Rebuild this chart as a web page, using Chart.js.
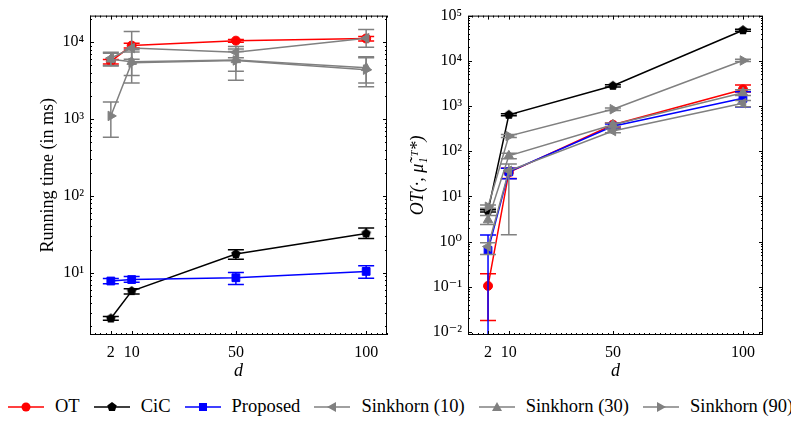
<!DOCTYPE html>
<html>
<head>
<meta charset="utf-8">
<script src="https://cdn.jsdelivr.net/npm/chart.js@4.4.1/dist/chart.umd.min.js"></script>
<style>
html,body{margin:0;padding:0;background:#fff;}
body{width:791px;height:421px;position:relative;overflow:hidden;font-family:"Liberation Serif","Times New Roman","DejaVu Serif",serif;color:#000;}
#left{position:absolute;left:0;top:0;width:395px;height:390px;}
#right{position:absolute;left:395px;top:0;width:396px;height:390px;}
#legend{position:absolute;left:8px;top:396px;display:flex;align-items:center;font-size:18.5px;white-space:nowrap;}
.item{display:flex;align-items:center;margin-right:14px;}
.item svg{margin-right:11px;}
</style>
</head>
<body>
<div id="left"><canvas id="timeChart"></canvas></div>
<div id="right"><canvas id="otChart"></canvas></div>
<div id="legend"></div>
<script>
const dims = [2, 10, 50, 100];
const xTicks = [2, 10, 50, 100];
const timeTicks = [10, 100, 1000, 10000];
const otTicks = [0.01, 0.1, 1, 10, 100, 1000, 10000, 100000];
const labels = ['OT', 'CiC', 'Proposed', 'Sinkhorn (10)', 'Sinkhorn (30)', 'Sinkhorn (90)'];

// running time (ms), with error bar ends
const timeOT    = [5650, 9060, 10500, 11200];
const timeOTLo  = [5200, 8400, 10000, 10400];
const timeOTHi  = [5950, 9700, 10900, 11900];
const timeCiC   = [2.54, 5.77, 17.5, 32.5];
const timeCiCLo = [2.4, 5.3, 15.0, 27.8];
const timeCiCHi = [2.7, 6.2, 19.9, 38.3];
const timeProp   = [7.8, 8.15, 8.6, 10.4];
const timePropLo = [7.2, 7.5, 7.0, 8.5];
const timePropHi = [8.4, 8.9, 10.1, 12.3];
const timeS10   = [6200, 8400, 7400, 11300];
const timeS10Lo = [4900, 6000, 6300, 8600];
const timeS10Hi = [7400, 13800, 8800, 14700];
const timeS30   = [6000, 5600, 5900, 4650];
const timeS30Lo = [5000, 3700, 3200, 2950];
const timeS30Hi = [7200, 8000, 8200, 6500];
const timeS90   = [1100, 5400, 5800, 4400];
const timeS90Lo = [580, 2950, 4200, 2630];
const timeS90Hi = [1670, 7500, 7600, 6300];

// OT cost
const otOT    = [0.105, 34, 386, 2330];
const otOTLo  = [0.018, 25, 345, 2050];
const otOTHi  = [0.195, 42, 420, 2900];
const otCiC   = [4.8, 640, 2800, 47500];
const otCiCLo = [4.5, 610, 2650, 45000];
const otCiCHi = [5.1, 670, 2950, 50000];
const otProp   = [0.64, 35, 357, 1480];
const otPropLo = [0.001, 24.7, 320, 950];
const otPropHi = [1.4, 42, 400, 2080];
const otS10   = [0.78, 37, 280, 1150];
const otS10Lo = [0.52, 1.42, 255, 960];
const otS10Hi = [0.95, 52, 310, 1320];
const otS30   = [3.0, 79, 386, 1970];
const otS30Lo = [2.4, 68, 350, 1700];
const otS30Hi = [3.8, 90, 420, 2300];
const otS90   = [5.9, 216, 850, 10150];
const otS90Lo = [5.5, 200, 800, 9600];
const otS90Hi = [6.5, 235, 900, 10800];

const FONT = "'Liberation Serif', 'Times New Roman', 'DejaVu Serif', serif";
const GRAY = '#808080';
Chart.defaults.font.family = FONT;
Chart.defaults.color = '#000';

function pentagon(r, color){
  const c = document.createElement('canvas');
  c.width = c.height = Math.ceil(r * 2 + 2);
  const g = c.getContext('2d');
  const cx = c.width / 2, cy = c.height / 2;
  g.beginPath();
  for(let k = 0; k < 5; k++){
    const a = -Math.PI / 2 + k * 2 * Math.PI / 5;
    g.lineTo(cx + r * Math.cos(a), cy + r * Math.sin(a));
  }
  g.closePath();
  g.fillStyle = color;
  g.fill();
  return c;
}

const styles = [
  { color: '#ff0000', point: 'circle', radius: 4.5, rot: 0 },
  { color: '#000000', point: pentagon(5, '#000'), radius: 5, rot: 0 },
  { color: '#0000ff', point: 'rect', radius: 5.5, rot: 0 },
  { color: GRAY, point: 'triangle', radius: 5.5, rot: -90 },
  { color: GRAY, point: 'triangle', radius: 5.5, rot: 0 },
  { color: GRAY, point: 'triangle', radius: 5.5, rot: 90 }
];

function makeSets(rows){
  return rows.map(([ys, lo, hi], i) => ({
    label: labels[i],
    data: dims.map((x, j) => ({ x, y: ys[j] })),
    errLo: lo, errHi: hi,
    borderColor: styles[i].color,
    backgroundColor: styles[i].color,
    pointStyle: styles[i].point,
    pointRadius: styles[i].radius,
    pointRotation: styles[i].rot,
    pointBorderWidth: 1,
    borderWidth: 1.5,
    tension: 0,
    order: 5 - i
  }));
}

const SUP = {'0':'⁰','1':'¹','2':'²','3':'³','4':'⁴','5':'⁵','6':'⁶','7':'⁷','8':'⁸','9':'⁹','-':'⁻'};
function pow10Label(v){
  const e = Math.round(Math.log10(v));
  return '10' + String(e).split('').map(ch => SUP[ch]).join('');
}

const errPlugin = {
  id: 'errbars',
  afterDatasetDraw(chart, args){
    const ds = chart.data.datasets[args.index];
    if(!ds.errLo) return;
    const { ctx, chartArea: a, scales: { x, y } } = chart;
    ctx.save();
    ctx.beginPath();
    ctx.rect(a.left, a.top, a.right - a.left, a.bottom - a.top);
    ctx.clip();
    ctx.strokeStyle = ds.borderColor;
    ctx.lineWidth = 1.5;
    ds.data.forEach((p, i) => {
      const px = x.getPixelForValue(p.x);
      const y0 = y.getPixelForValue(ds.errLo[i]);
      const y1 = y.getPixelForValue(ds.errHi[i]);
      ctx.beginPath();
      ctx.moveTo(px, y0); ctx.lineTo(px, y1);
      ctx.moveTo(px - 8, y0); ctx.lineTo(px + 8, y0);
      ctx.moveTo(px - 8, y1); ctx.lineTo(px + 8, y1);
      ctx.stroke();
    });
    ctx.restore();
  }
};

const framePlugin = {
  id: 'frame',
  afterDraw(chart){
    const { ctx, chartArea: a, scales: { x, y } } = chart;
    ctx.save();
    ctx.strokeStyle = '#000';
    ctx.lineWidth = 1;
    ctx.strokeRect(a.left + 0.5, a.top + 0.5, a.right - a.left - 1, a.bottom - a.top - 1);
    ctx.beginPath();
    const xt = (v, len) => {
      const px = Math.round(x.getPixelForValue(v)) + 0.5;
      ctx.moveTo(px, a.bottom); ctx.lineTo(px, a.bottom - len);
      ctx.moveTo(px, a.top); ctx.lineTo(px, a.top + len);
    };
    const yt = (v, len) => {
      const py = Math.round(y.getPixelForValue(v)) + 0.5;
      ctx.moveTo(a.left, py); ctx.lineTo(a.left + len, py);
      ctx.moveTo(a.right, py); ctx.lineTo(a.right - len, py);
    };
    for(let v = Math.ceil(x.min / 2) * 2; v <= x.max; v += 2){
      xt(v, xTicks.includes(v) ? 4 : 2);
    }
    const e0 = Math.floor(Math.log10(y.min)), e1 = Math.ceil(Math.log10(y.max));
    for(let e = e0; e <= e1; e++){
      for(let k = 1; k < 10; k++){
        const v = k * Math.pow(10, e);
        if(v < y.min || v > y.max) continue;
        yt(v, k === 1 ? 4 : 2);
      }
    }
    ctx.stroke();
    ctx.restore();
  }
};

function buildChart(id, rows, opt){
  return new Chart(document.getElementById(id), {
    type: 'line',
    data: { datasets: makeSets(rows) },
    plugins: [errPlugin, framePlugin],
    options: {
      responsive: true,
      maintainAspectRatio: false,
      animation: false,
      layout: { padding: { top: 12, right: opt.padRight, left: 0, bottom: 0 } },
      plugins: { legend: { display: false }, tooltip: { enabled: false } },
      scales: {
        x: {
          type: 'linear', min: opt.xMin, max: opt.xMax,
          afterBuildTicks: s => { s.ticks = xTicks.map(v => ({ value: v })); },
          afterFit: s => { s.height = 55; },
          grid: { display: false, drawTicks: false },
          border: { display: false },
          ticks: { autoSkip: false, maxRotation: 0, padding: 8, font: { size: 16 }, callback: v => String(v) },
          title: { display: true, text: 'd', font: { size: 18, style: 'italic' }, padding: { top: 0, bottom: 8 } }
        },
        y: {
          type: 'logarithmic', min: opt.yMin, max: opt.yMax,
          afterBuildTicks: s => { s.ticks = opt.yTicks.map(v => ({ value: v })); },
          afterFit: s => { s.width = opt.yWidth; },
          grid: { display: false, drawTicks: false },
          border: { display: false },
          ticks: { autoSkip: false, padding: 6, font: { size: 16 }, callback: v => pow10Label(v) },
          title: { display: true, text: opt.yTitle, font: { size: 18, style: opt.yStyle }, padding: { top: opt.titlePad, bottom: 0 } }
        }
      }
    }
  });
}

buildChart('timeChart', [
  [timeOT, timeOTLo, timeOTHi],
  [timeCiC, timeCiCLo, timeCiCHi],
  [timeProp, timePropLo, timePropHi],
  [timeS10, timeS10Lo, timeS10Hi],
  [timeS30, timeS30Lo, timeS30Hi],
  [timeS90, timeS90Lo, timeS90Hi]
], { xMin: -6, xMax: 108, yMin: 1.546, yMax: 22260, yTicks: timeTicks, yWidth: 90, padRight: 8,
     yTitle: 'Running time (in ms)', yStyle: 'normal', titlePad: 37 });

buildChart('otChart', [
  [otOT, otOTLo, otOTHi],
  [otCiC, otCiCLo, otCiCHi],
  [otProp, otPropLo, otPropHi],
  [otS10, otS10Lo, otS10Hi],
  [otS30, otS30Lo, otS30Hi],
  [otS90, otS90Lo, otS90Hi]
], { xMin: -5.7, xMax: 107.7, yMin: 0.0086, yMax: 100000, yTicks: otTicks, yWidth: 73, padRight: 28,
     yTitle: 'OT(·, μ̃₁ᵀ*)', yStyle: 'italic', titlePad: 12 });

// legend
function markerSvg(i){
  const c = styles[i].color;
  let m = '';
  if(i === 0) m = `<circle cx="18" cy="8" r="4.5" fill="${c}"/>`;
  else if(i === 1){
    const pts = [];
    for(let k = 0; k < 5; k++){
      const a = -Math.PI / 2 + k * 2 * Math.PI / 5;
      pts.push((18 + 5 * Math.cos(a)).toFixed(2) + ',' + (8 + 5 * Math.sin(a)).toFixed(2));
    }
    m = `<polygon points="${pts.join(' ')}" fill="${c}"/>`;
  }
  else if(i === 2) m = `<rect x="14" y="4" width="8" height="8" fill="${c}"/>`;
  else if(i === 3) m = `<polygon points="13,8 22,3 22,13" fill="${c}"/>`;
  else if(i === 4) m = `<polygon points="18,3 23,12 13,12" fill="${c}"/>`;
  else m = `<polygon points="23,8 14,3 14,13" fill="${c}"/>`;
  return `<svg width="36" height="16"><line x1="0" y1="8" x2="36" y2="8" stroke="${c}" stroke-width="1.5"/>${m}</svg>`;
}
document.getElementById('legend').innerHTML = labels.map((l, i) =>
  `<div class="item">${markerSvg(i)}<span>${l}</span></div>`).join('');
</script>
</body>
</html>
